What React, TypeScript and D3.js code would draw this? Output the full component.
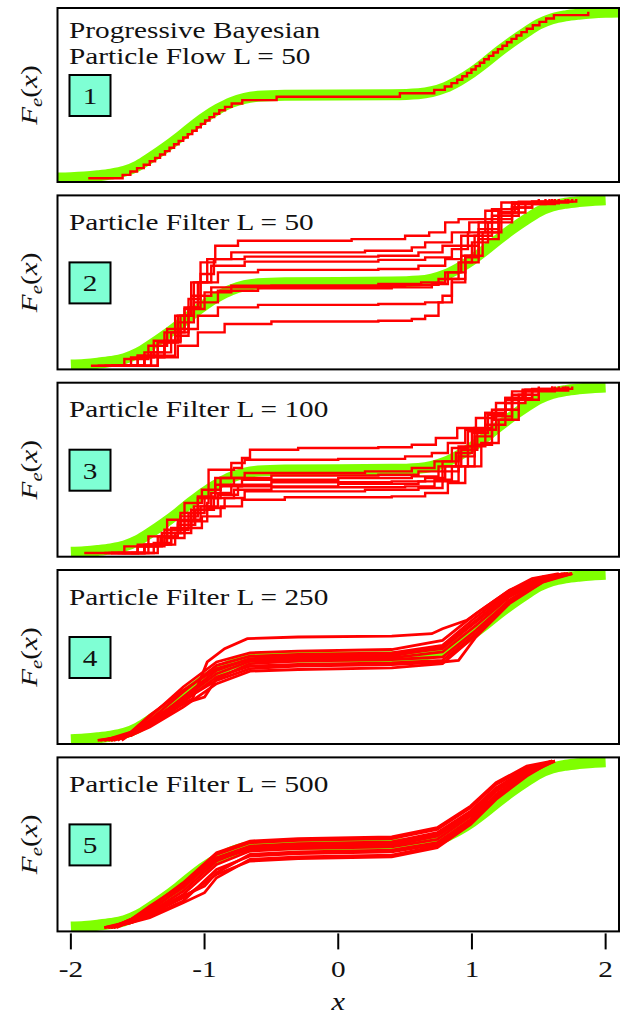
import * as d3 from 'd3';

type Pt = [number, number];

// x-axis
const xTicks = [-2, -1, 0, 1, 2];
const xTickLabels = ['-2', '-1', '0', '1', '2'];

const greenX = [-2.1, -2.0, -1.9, -1.8, -1.7, -1.6, -1.5, -1.4, -1.3, -1.2, -1.1, -1.0, -0.9, -0.8, -0.7, -0.6, -0.4, 0, 0.4, 0.6, 0.7, 0.8, 0.9, 1.0, 1.1, 1.2, 1.3, 1.4, 1.5, 1.6, 1.7, 1.8, 1.9, 2.0, 2.1];
const greenF = [0.002, 0.004, 0.008, 0.015, 0.025, 0.042, 0.075, 0.125, 0.18, 0.24, 0.305, 0.365, 0.415, 0.455, 0.48, 0.492, 0.498, 0.5, 0.502, 0.508, 0.52, 0.545, 0.585, 0.635, 0.695, 0.76, 0.82, 0.875, 0.925, 0.958, 0.975, 0.985, 0.992, 0.996, 0.998];

// panel 1: deterministic particle positions (L = 50)
const flowParticles = [
  -1.870, -1.613, -1.555, -1.505, -1.455, -1.410, -1.370, -1.333, -1.296, -1.262,
  -1.228, -1.194, -1.160, -1.126, -1.092, -1.059, -1.028, -0.996, -0.963, -0.928,
  -0.890, -0.847, -0.797, -0.718, -0.461,
  0.461, 0.718, 0.797, 0.847, 0.890, 0.928, 0.963, 0.996, 1.028, 1.059,
  1.092, 1.126, 1.160, 1.194, 1.228, 1.262, 1.296, 1.333, 1.370, 1.410,
  1.455, 1.505, 1.555, 1.613, 1.870,
];

// panel 2: particle filter L = 50, ECDF corner points
const pf50: Pt[][] = [
  [[-1.55, 0], [-1.35, 0.06], [-1.22, 0.18], [-1.12, 0.4], [-1.03, 0.62], [-0.92, 0.72], [-0.75, 0.75], [0.1, 0.76], [0.5, 0.78], [0.68, 0.8], [0.8, 0.86], [0.9, 0.88], [1.1, 0.93], [1.22, 0.98], [1.5, 1]],
  [[-1.7, 0], [-1.45, 0.05], [-1.3, 0.15], [-1.18, 0.3], [-1.1, 0.5], [-0.98, 0.64], [-0.8, 0.68], [0.2, 0.69], [0.55, 0.71], [0.65, 0.74], [0.85, 0.8], [0.98, 0.86], [1.15, 0.94], [1.3, 0.98], [1.6, 1]],
  [[-1.6, 0], [-1.4, 0.08], [-1.25, 0.2], [-1.12, 0.35], [-1.03, 0.55], [-0.93, 0.64], [-0.7, 0.655], [0.3, 0.66], [0.6, 0.68], [0.78, 0.72], [0.92, 0.78], [1.05, 0.86], [1.2, 0.94], [1.35, 0.985], [1.7, 1]],
  [[-1.75, 0], [-1.5, 0.06], [-1.35, 0.14], [-1.2, 0.3], [-1.08, 0.5], [-0.95, 0.6], [-0.7, 0.625], [0.3, 0.635], [0.65, 0.65], [0.85, 0.7], [0.97, 0.8], [1.1, 0.88], [1.3, 0.95], [1.45, 0.985], [1.75, 1]],
  [[-1.65, 0], [-1.45, 0.08], [-1.3, 0.2], [-1.15, 0.35], [-1.05, 0.5], [-0.9, 0.56], [-0.6, 0.575], [0.3, 0.58], [0.6, 0.6], [0.8, 0.64], [0.92, 0.72], [1.05, 0.82], [1.2, 0.92], [1.35, 0.975], [1.65, 1]],
  [[-1.85, 0], [-1.6, 0.04], [-1.42, 0.12], [-1.28, 0.22], [-1.15, 0.34], [-1.0, 0.44], [-0.8, 0.48], [0.3, 0.49], [0.62, 0.5], [0.8, 0.56], [0.92, 0.66], [1.02, 0.78], [1.15, 0.9], [1.3, 0.97], [1.55, 1]],
  [[-1.7, 0], [-1.5, 0.06], [-1.35, 0.14], [-1.2, 0.26], [-1.08, 0.38], [-0.9, 0.45], [-0.6, 0.465], [0.4, 0.47], [0.7, 0.49], [0.82, 0.56], [0.95, 0.66], [1.08, 0.8], [1.22, 0.92], [1.4, 0.98], [1.72, 1]],
  [[-1.6, 0], [-1.45, 0.06], [-1.3, 0.14], [-1.18, 0.22], [-1.05, 0.3], [-0.9, 0.35], [-0.6, 0.365], [0.3, 0.37], [0.65, 0.38], [0.78, 0.42], [0.85, 0.5], [0.95, 0.62], [1.05, 0.76], [1.2, 0.9], [1.35, 0.97], [1.62, 1]],
  [[-1.5, 0], [-1.35, 0.05], [-1.2, 0.12], [-1.05, 0.2], [-0.85, 0.25], [-0.5, 0.265], [0.3, 0.27], [0.55, 0.28], [0.65, 0.3], [0.75, 0.38], [0.85, 0.52], [0.95, 0.65], [1.05, 0.8], [1.2, 0.92], [1.32, 0.975], [1.58, 1]],
  [[-1.8, 0], [-1.55, 0.05], [-1.38, 0.15], [-1.22, 0.3], [-1.1, 0.42], [-0.95, 0.47], [-0.5, 0.48], [0.5, 0.485], [0.75, 0.52], [0.9, 0.62], [1.0, 0.74], [1.12, 0.86], [1.3, 0.95], [1.45, 0.985], [1.78, 1]],
];

// panel 3: particle filter L = 100
const pf100: Pt[][] = [
  [[-1.7, 0], [-1.45, 0.05], [-1.25, 0.15], [-1.1, 0.26], [-0.98, 0.3], [-0.97, 0.5], [-0.78, 0.51], [-0.72, 0.57], [-0.66, 0.62], [-0.3, 0.63], [0.3, 0.635], [0.55, 0.65], [0.73, 0.69], [0.89, 0.75], [1.03, 0.81], [1.18, 0.9], [1.3, 0.97], [1.5, 1]],
  [[-1.75, 0], [-1.5, 0.04], [-1.32, 0.12], [-1.18, 0.22], [-1.05, 0.34], [-0.92, 0.45], [-0.8, 0.54], [-0.7, 0.56], [0, 0.565], [0.5, 0.58], [0.7, 0.6], [0.82, 0.66], [0.95, 0.74], [1.1, 0.84], [1.25, 0.93], [1.38, 0.98], [1.6, 1]],
  [[-1.9, 0], [-1.6, 0.04], [-1.42, 0.1], [-1.28, 0.2], [-1.15, 0.3], [-1.02, 0.38], [-0.88, 0.45], [-0.7, 0.48], [0.2, 0.49], [0.55, 0.51], [0.72, 0.55], [0.85, 0.63], [0.97, 0.73], [1.1, 0.84], [1.25, 0.93], [1.4, 0.98], [1.65, 1]],
  [[-1.65, 0], [-1.45, 0.05], [-1.3, 0.14], [-1.18, 0.24], [-1.05, 0.33], [-0.92, 0.41], [-0.78, 0.45], [-0.5, 0.465], [0.3, 0.47], [0.6, 0.49], [0.78, 0.55], [0.9, 0.64], [1.02, 0.75], [1.15, 0.86], [1.3, 0.95], [1.45, 0.985], [1.7, 1]],
  [[-1.55, 0], [-1.38, 0.06], [-1.25, 0.14], [-1.12, 0.24], [-1.0, 0.33], [-0.88, 0.4], [-0.72, 0.44], [0.0, 0.45], [0.55, 0.46], [0.75, 0.52], [0.88, 0.6], [1.0, 0.72], [1.12, 0.83], [1.25, 0.92], [1.38, 0.975], [1.6, 1]],
  [[-1.7, 0], [-1.5, 0.04], [-1.35, 0.1], [-1.2, 0.19], [-1.08, 0.28], [-0.95, 0.36], [-0.8, 0.41], [-0.5, 0.425], [0.4, 0.43], [0.65, 0.45], [0.8, 0.52], [0.92, 0.62], [1.04, 0.74], [1.18, 0.86], [1.35, 0.95], [1.5, 0.985], [1.75, 1]],
  [[-1.6, 0], [-1.42, 0.05], [-1.28, 0.12], [-1.15, 0.2], [-1.03, 0.28], [-0.9, 0.35], [-0.75, 0.4], [0.0, 0.415], [0.6, 0.43], [0.78, 0.49], [0.9, 0.58], [1.02, 0.7], [1.15, 0.82], [1.3, 0.93], [1.45, 0.98], [1.68, 1]],
  [[-1.72, 0], [-1.5, 0.05], [-1.33, 0.1], [-1.2, 0.17], [-1.07, 0.26], [-0.93, 0.33], [-0.78, 0.38], [-0.5, 0.395], [0.5, 0.4], [0.72, 0.44], [0.85, 0.52], [0.97, 0.64], [1.1, 0.77], [1.25, 0.9], [1.4, 0.97], [1.62, 1]],
  [[-1.5, 0], [-1.35, 0.05], [-1.22, 0.12], [-1.1, 0.19], [-0.98, 0.27], [-0.85, 0.33], [-0.7, 0.37], [0.2, 0.38], [0.6, 0.39], [0.78, 0.43], [0.9, 0.52], [1.02, 0.65], [1.15, 0.8], [1.3, 0.92], [1.45, 0.975], [1.72, 1]],
  [[-1.62, 0], [-1.45, 0.04], [-1.3, 0.09], [-1.15, 0.15], [-1.02, 0.22], [-0.88, 0.28], [-0.72, 0.32], [-0.4, 0.335], [0.4, 0.34], [0.65, 0.36], [0.82, 0.42], [0.95, 0.52], [1.07, 0.66], [1.2, 0.8], [1.35, 0.92], [1.5, 0.98], [1.7, 1]],
];

// panel 4: particle filter L = 250
const pf250: Pt[][] = [
  [[-1.7, 0], [-1.5, 0.05], [-1.35, 0.12], [-1.2, 0.2], [-1.09, 0.25], [-0.98, 0.47], [-0.85, 0.55], [-0.68, 0.61], [-0.3, 0.62], [0.4, 0.625], [0.7, 0.64], [0.78, 0.67], [0.96, 0.72], [1.1, 0.8], [1.28, 0.9], [1.45, 0.97], [1.65, 1]],
  [[-1.75, 0], [-1.55, 0.05], [-1.41, 0.14], [-1.16, 0.32], [-0.91, 0.47], [-0.66, 0.525], [-0.3, 0.535], [0.4, 0.545], [0.78, 0.6], [1.03, 0.76], [1.28, 0.9], [1.53, 0.98], [1.7, 1]],
  [[-1.7, 0], [-1.55, 0.04], [-1.41, 0.12], [-1.16, 0.29], [-0.91, 0.45], [-0.66, 0.505], [-0.3, 0.515], [0.4, 0.525], [0.78, 0.57], [1.03, 0.74], [1.28, 0.89], [1.53, 0.98], [1.72, 1]],
  [[-1.8, 0], [-1.55, 0.03], [-1.41, 0.1], [-1.16, 0.26], [-0.91, 0.42], [-0.66, 0.49], [-0.3, 0.505], [0.4, 0.515], [0.78, 0.55], [1.03, 0.71], [1.28, 0.87], [1.53, 0.97], [1.75, 1]],
  [[-1.65, 0], [-1.55, 0.05], [-1.41, 0.15], [-1.16, 0.3], [-0.91, 0.43], [-0.66, 0.485], [-0.3, 0.495], [0.4, 0.505], [0.78, 0.56], [1.03, 0.72], [1.28, 0.88], [1.53, 0.97], [1.68, 1]],
  [[-1.72, 0], [-1.55, 0.04], [-1.41, 0.11], [-1.16, 0.25], [-0.91, 0.4], [-0.66, 0.475], [-0.3, 0.485], [0.4, 0.495], [0.78, 0.53], [1.03, 0.69], [1.28, 0.86], [1.53, 0.97], [1.72, 1]],
  [[-1.68, 0], [-1.55, 0.03], [-1.41, 0.09], [-1.16, 0.22], [-1.0, 0.26], [-0.91, 0.37], [-0.66, 0.46], [-0.3, 0.475], [0.4, 0.485], [0.78, 0.5], [1.03, 0.66], [1.28, 0.84], [1.53, 0.96], [1.75, 1]],
  [[-1.75, 0], [-1.55, 0.04], [-1.41, 0.1], [-1.16, 0.23], [-0.91, 0.38], [-0.66, 0.445], [-0.3, 0.455], [0.4, 0.465], [0.78, 0.48], [1.03, 0.64], [1.28, 0.84], [1.53, 0.96], [1.7, 1]],
  [[-1.62, 0], [-1.55, 0.04], [-1.41, 0.12], [-1.16, 0.24], [-0.91, 0.36], [-0.66, 0.43], [-0.3, 0.445], [0.4, 0.455], [0.78, 0.47], [0.9, 0.48], [1.03, 0.62], [1.28, 0.82], [1.53, 0.95], [1.72, 1]],
  [[-1.78, 0], [-1.55, 0.03], [-1.41, 0.08], [-1.16, 0.2], [-0.91, 0.34], [-0.66, 0.415], [-0.3, 0.425], [0.4, 0.435], [0.78, 0.46], [1.03, 0.63], [1.28, 0.83], [1.53, 0.95], [1.75, 1]],
];

// panel 5: particle filter L = 500
const pf500: Pt[][] = [
  [[-1.7, 0], [-1.55, 0.05], [-1.41, 0.12], [-1.16, 0.27], [-0.91, 0.45], [-0.66, 0.52], [-0.3, 0.535], [0.4, 0.545], [0.74, 0.6], [0.99, 0.73], [1.18, 0.87], [1.41, 0.97], [1.6, 1]],
  [[-1.75, 0], [-1.55, 0.04], [-1.41, 0.1], [-1.16, 0.25], [-0.91, 0.44], [-0.66, 0.51], [-0.3, 0.525], [0.4, 0.535], [0.74, 0.59], [0.99, 0.72], [1.18, 0.86], [1.41, 0.96], [1.62, 1]],
  [[-1.68, 0], [-1.55, 0.05], [-1.41, 0.11], [-1.16, 0.24], [-0.91, 0.42], [-0.66, 0.49], [-0.3, 0.505], [0.4, 0.515], [0.74, 0.57], [0.99, 0.7], [1.18, 0.84], [1.41, 0.95], [1.6, 1]],
  [[-1.72, 0], [-1.55, 0.04], [-1.41, 0.09], [-1.16, 0.22], [-0.91, 0.4], [-0.66, 0.48], [-0.3, 0.495], [0.4, 0.505], [0.74, 0.56], [0.99, 0.69], [1.18, 0.83], [1.41, 0.95], [1.62, 1]],
  [[-1.7, 0], [-1.55, 0.05], [-1.41, 0.13], [-1.16, 0.26], [-0.91, 0.41], [-0.66, 0.47], [-0.3, 0.485], [0.4, 0.495], [0.74, 0.55], [0.99, 0.68], [1.18, 0.82], [1.41, 0.94], [1.6, 1]],
  [[-1.75, 0], [-1.55, 0.03], [-1.41, 0.08], [-1.16, 0.2], [-0.91, 0.38], [-0.66, 0.46], [-0.3, 0.475], [0.4, 0.485], [0.74, 0.53], [0.99, 0.67], [1.18, 0.82], [1.41, 0.94], [1.6, 1]],
  [[-1.66, 0], [-1.55, 0.04], [-1.41, 0.1], [-1.16, 0.19], [-1.0, 0.25], [-0.91, 0.33], [-0.66, 0.44], [-0.3, 0.455], [0.4, 0.465], [0.74, 0.51], [0.99, 0.65], [1.18, 0.8], [1.41, 0.93], [1.62, 1]],
  [[-1.72, 0], [-1.55, 0.03], [-1.41, 0.07], [-1.16, 0.16], [-0.91, 0.35], [-0.66, 0.43], [-0.3, 0.445], [0.4, 0.455], [0.74, 0.5], [0.99, 0.64], [1.18, 0.79], [1.41, 0.93], [1.6, 1]],
  [[-1.7, 0], [-1.55, 0.03], [-1.41, 0.06], [-1.16, 0.15], [-1.0, 0.21], [-0.91, 0.3], [-0.66, 0.41], [-0.3, 0.425], [0.4, 0.435], [0.74, 0.49], [0.99, 0.63], [1.18, 0.78], [1.41, 0.92], [1.62, 1]],
  [[-1.68, 0], [-1.55, 0.04], [-1.41, 0.08], [-1.16, 0.18], [-0.91, 0.32], [-0.66, 0.4], [-0.3, 0.415], [0.4, 0.425], [0.74, 0.48], [0.99, 0.62], [1.18, 0.77], [1.41, 0.91], [1.6, 1]],
];

const panelTitles = [
  ['Progressive Bayesian', 'Particle Flow L = 50'],
  ['Particle Filter L = 50'],
  ['Particle Filter L = 100'],
  ['Particle Filter L = 250'],
  ['Particle Filter L = 500'],
];
const panelNumbers = ['1', '2', '3', '4', '5'];

const W = 626;
const H = 1015;
const FONT = "'Liberation Serif', 'DejaVu Serif', serif";
const GREEN = '#7fff00';
const RED = '#ff0000';
const WIDEN = 1.22; // the LaTeX face is wider than Liberation Serif

const frameLeft = 57.5;
const frameRight = 619;
const frameH = 174;
const panelTops = [8, 195.4, 382.7, 570, 757.4];

const x = d3.scaleLinear().domain([-2.1, 2.1]).range([frameLeft, frameRight]);

function Panel({ idx }: { idx: number }) {
  const top = panelTops[idx];
  const y = d3.scaleLinear().domain([0, 1]).range([top + 170.3, top + 3.7]);
  const clipId = `clip-${idx}`;

  const greenPts: Pt[] = greenX
    .map((gx, i) => [gx, greenF[i]] as Pt)
    .filter(p => idx === 0 || (p[0] >= -2 && p[0] <= 2));
  const greenLine = d3.line<Pt>().x(d => x(d[0])).y(d => y(d[1])).curve(d3.curveMonotoneX);

  let redPaths: string[] = [];
  const stepLine = d3.line<Pt>().x(d => x(d[0])).y(d => y(d[1])).curve(d3.curveStepAfter);
  const smoothLine = d3.line<Pt>().x(d => x(d[0])).y(d => y(d[1]));
  if (idx === 0) {
    const n = flowParticles.length;
    const pts: Pt[] = flowParticles.map((p, i) => [p, i / (n - 1)]);
    redPaths = [stepLine(pts) || ''];
  } else if (idx === 1) {
    redPaths = pf50.map(c => stepLine(c) || '');
  } else if (idx === 2) {
    redPaths = pf100.map(c => stepLine(c) || '');
  } else if (idx === 3) {
    redPaths = pf250.map(c => smoothLine(c) || '');
  } else {
    redPaths = pf500.map(c => smoothLine(c) || '');
  }
  const redWidth = idx >= 3 ? 2.8 : 2.4;

  const titles = panelTitles[idx];
  const titleBase = idx === 0 ? [top + 29.5, top + 56] : [top + 34.5];

  return (
    <g>
      <defs>
        <clipPath id={clipId}>
          <rect x={frameLeft} y={top} width={frameRight - frameLeft} height={frameH} />
        </clipPath>
      </defs>
      <g clipPath={`url(#${clipId})`}>
        <path d={greenLine(greenPts) || ''} fill="none" stroke={GREEN} strokeWidth={11} />
        {redPaths.map((d, i) => (
          <path key={i} d={d} fill="none" stroke={RED} strokeWidth={redWidth} strokeLinejoin="miter" />
        ))}
      </g>
      <rect x={frameLeft} y={top} width={frameRight - frameLeft} height={frameH} fill="none" stroke="#000" strokeWidth={2} />
      {titles.map((t, i) => (
        <text key={i} transform={`translate(69, ${titleBase[i]}) scale(${WIDEN}, 1)`} fontFamily={FONT} fontSize={24} fill="#111">{t}</text>
      ))}
      <rect x={69.5} y={top + 67} width={41} height={41} fill="#7fffd4" stroke="#000" strokeWidth={2} />
      <text transform={`translate(90, ${top + 96}) scale(${WIDEN}, 1)`} textAnchor="middle" fontFamily={FONT} fontSize={24} fill="#111">{panelNumbers[idx]}</text>
      <g transform={`translate(37, ${top + 87}) rotate(-90) scale(${WIDEN}, 1)`}>
        <text textAnchor="middle" fontFamily={FONT} fontSize={24} fill="#111">
          <tspan fontStyle="italic">F</tspan>
          <tspan fontStyle="italic" fontSize={17} dy={5}>e</tspan>
          <tspan dy={-5}>(</tspan>
          <tspan fontStyle="italic">x</tspan>
          <tspan>)</tspan>
        </text>
      </g>
    </g>
  );
}

export default function App() {
  const axisY = panelTops[4] + frameH;
  return (
    <svg width={W} height={H} viewBox={`0 0 ${W} ${H}`} style={{ position: 'absolute', left: 0, top: 0, background: '#fff' }}>
      <rect x={0} y={0} width={W} height={H} fill="#fff" />
      {panelTops.map((_, i) => <Panel key={i} idx={i} />)}
      {xTicks.map((t, i) => (
        <g key={t}>
          <line x1={x(t)} x2={x(t)} y1={axisY + 2} y2={axisY + 18} stroke="#000" strokeWidth={2} />
          <text transform={`translate(${x(t)}, ${axisY + 46}) scale(${WIDEN}, 1)`} textAnchor="middle" fontFamily={FONT} fontSize={24} fill="#111">{xTickLabels[i]}</text>
        </g>
      ))}
      <text transform={`translate(${x(0)}, ${axisY + 79}) scale(${WIDEN}, 1)`} textAnchor="middle" fontFamily={FONT} fontSize={25} fontStyle="italic" fill="#111">x</text>
    </svg>
  );
}
